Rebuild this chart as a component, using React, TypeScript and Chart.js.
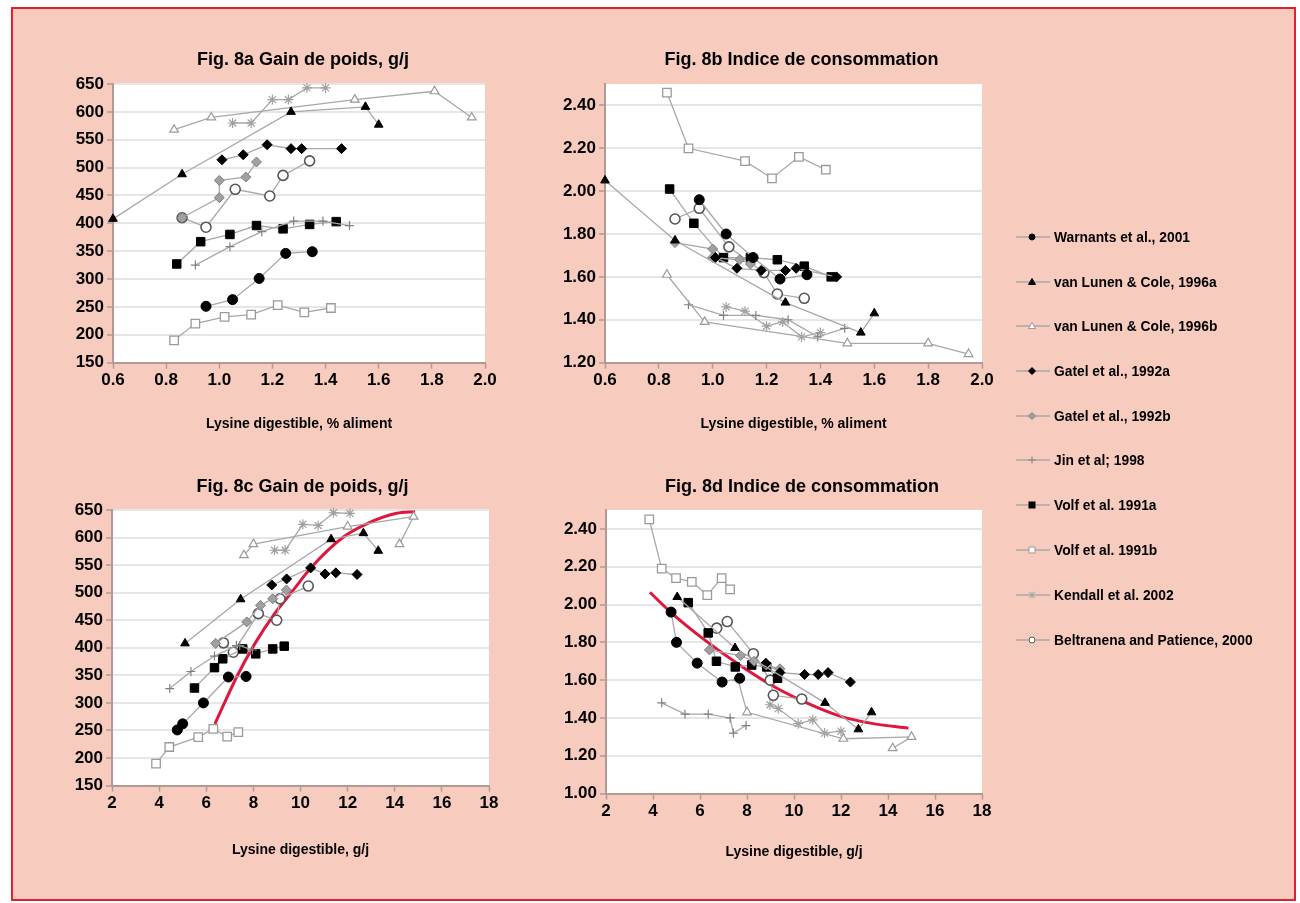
import React, { useEffect, useRef } from "react";
import { Chart, registerables } from "chart.js";
Chart.register(...registerables);

type P = [number, number][];

// ---------- series names (legend) ----------
const seriesNames = [
  "Warnants et al., 2001",
  "van Lunen & Cole, 1996a",
  "van Lunen & Cole, 1996b",
  "Gatel et al., 1992a",
  "Gatel et al., 1992b",
  "Jin et al; 1998",
  "Volf et al. 1991a",
  "Volf et al. 1991b",
  "Kendall et al. 2002",
  "Beltranena and Patience, 2000",
];

// ---------- ticks ----------
const pctTicks = [0.6, 0.8, 1.0, 1.2, 1.4, 1.6, 1.8, 2.0];
const pctLabels = ["0.6", "0.8", "1.0", "1.2", "1.4", "1.6", "1.8", "2.0"];
const gjTicks = [2, 4, 6, 8, 10, 12, 14, 16, 18];
const gjLabels = ["2", "4", "6", "8", "10", "12", "14", "16", "18"];
const gainTicks = [150, 200, 250, 300, 350, 400, 450, 500, 550, 600, 650];
const gainLabels = ["150", "200", "250", "300", "350", "400", "450", "500", "550", "600", "650"];
const icTicksB = [1.2, 1.4, 1.6, 1.8, 2.0, 2.2, 2.4];
const icLabelsB = ["1.20", "1.40", "1.60", "1.80", "2.00", "2.20", "2.40"];
const icTicksD = [1.0, 1.2, 1.4, 1.6, 1.8, 2.0, 2.2, 2.4];
const icLabelsD = ["1.00", "1.20", "1.40", "1.60", "1.80", "2.00", "2.20", "2.40"];

// ---------- Fig 8a : lysine % vs gain ----------
const warnantsA: P = [[0.95, 251], [1.05, 263], [1.15, 301], [1.25, 346], [1.35, 349]];
const lunenA_A: P = [[0.6, 408], [0.86, 488], [1.27, 600], [1.55, 609], [1.6, 577]];
const lunenB_A: P = [[0.83, 568], [0.97, 590], [1.51, 622], [1.81, 637], [1.95, 590]];
const gatelA_A: P = [[1.01, 514], [1.09, 523], [1.18, 541], [1.27, 534], [1.31, 534], [1.46, 534]];
const gatelB_A: P = [[0.86, 410], [1.0, 446], [1.0, 477], [1.1, 483], [1.14, 510]];
const jinA: P = [[0.91, 325], [1.04, 358], [1.16, 385], [1.28, 404], [1.39, 404], [1.49, 396]];
const volfA_A: P = [[0.84, 327], [0.93, 367], [1.04, 380], [1.14, 396], [1.24, 390], [1.34, 398], [1.44, 403]];
const volfB_A: P = [[0.83, 190], [0.91, 220], [1.02, 232], [1.12, 236], [1.22, 253], [1.32, 240], [1.42, 248]];
const kendallA: P = [[1.05, 580], [1.12, 580], [1.2, 622], [1.26, 622], [1.33, 643], [1.4, 643]];
const beltA: P = [[0.86, 410], [0.95, 393], [1.06, 461], [1.19, 449], [1.24, 486], [1.34, 512]];

// ---------- Fig 8b : lysine % vs feed conversion ----------
const warnantsB: P = [[0.95, 1.96], [1.05, 1.8], [1.15, 1.69], [1.25, 1.59], [1.35, 1.61]];
const lunenA_B: P = [[0.6, 2.05], [0.86, 1.77], [1.27, 1.48], [1.55, 1.34], [1.6, 1.43]];
const lunenB_B: P = [[0.83, 1.61], [0.97, 1.39], [1.5, 1.29], [1.8, 1.29], [1.95, 1.24]];
const gatelA_B: P = [[1.01, 1.69], [1.09, 1.64], [1.18, 1.63], [1.27, 1.63], [1.31, 1.64], [1.46, 1.6]];
const gatelB_B: P = [[0.86, 1.76], [1.0, 1.73], [1.0, 1.69], [1.1, 1.68], [1.14, 1.66]];
const jinB: P = [[0.91, 1.47], [1.04, 1.42], [1.16, 1.42], [1.28, 1.4], [1.39, 1.32], [1.49, 1.36]];
const volfA_B: P = [[0.84, 2.01], [0.93, 1.85], [1.04, 1.69], [1.14, 1.69], [1.24, 1.68], [1.34, 1.65], [1.44, 1.6]];
const volfB_B: P = [[0.83, 2.46], [0.91, 2.2], [1.12, 2.14], [1.22, 2.06], [1.32, 2.16], [1.42, 2.1]];
const kendallB: P = [[1.05, 1.46], [1.12, 1.44], [1.2, 1.37], [1.26, 1.39], [1.33, 1.32], [1.4, 1.34]];
const beltB: P = [[0.86, 1.87], [0.95, 1.92], [1.06, 1.74], [1.19, 1.62], [1.24, 1.52], [1.34, 1.5]];

// ---------- Fig 8c : lysine g/j vs gain ----------
const warnantsC: P = [[4.77, 251], [5.0, 262], [5.88, 300], [6.94, 347], [7.69, 348]];
const lunenA_C: P = [[5.1, 408], [7.46, 488], [11.3, 597], [12.67, 608], [13.3, 576]];
const lunenB_C: P = [[7.6, 568], [8.0, 588], [12.0, 620], [14.8, 638], [14.2, 588]];
const gatelA_C: P = [[8.78, 514], [9.41, 525], [10.43, 545], [11.04, 534], [11.5, 536], [12.4, 533]];
const gatelB_C: P = [[6.4, 408], [7.72, 447], [8.3, 477], [8.82, 489], [9.4, 505]];
const jinC: P = [[4.45, 326], [5.35, 357], [6.35, 385], [7.28, 404], [7.42, 404], [7.96, 396]];
const volfA_C: P = [[5.5, 327], [6.35, 364], [6.7, 380], [7.55, 398], [8.1, 389], [8.82, 398], [9.31, 403]];
const volfB_C: P = [[3.87, 190], [4.43, 220], [5.66, 238], [6.3, 253], [6.89, 239], [7.36, 247]];
const kendallC: P = [[8.9, 577], [9.35, 577], [10.1, 624], [10.75, 622], [11.4, 645], [12.1, 644]];
const beltC: P = [[6.73, 409], [7.15, 392], [8.21, 462], [8.99, 450], [9.13, 489], [10.33, 512]];
const fitC: P = [[6.37, 262], [7.29, 347], [8.07, 408], [8.85, 459], [9.7, 505], [10.48, 547], [11.82, 601], [12.81, 625], [14.08, 644], [14.86, 647]];

// ---------- Fig 8d : lysine g/j vs feed conversion ----------
const warnantsD: P = [[4.77, 1.96], [5.0, 1.8], [5.88, 1.69], [6.94, 1.59], [7.69, 1.61]];
const lunenA_D: P = [[5.03, 2.04], [7.49, 1.77], [11.32, 1.48], [12.74, 1.34], [13.3, 1.43]];
const lunenB_D: P = [[7.6, 1.61], [8.0, 1.43], [12.1, 1.29], [15.0, 1.3], [14.2, 1.24]];
const gatelA_D: P = [[8.8, 1.69], [9.4, 1.64], [10.45, 1.63], [11.03, 1.63], [11.45, 1.64], [12.4, 1.59]];
const gatelB_D: P = [[6.4, 1.76], [7.72, 1.73], [8.3, 1.7], [8.82, 1.68], [9.4, 1.66]];
const jinD: P = [[4.37, 1.48], [5.36, 1.42], [6.35, 1.42], [7.28, 1.4], [7.42, 1.32], [7.96, 1.36]];
const volfA_D: P = [[5.5, 2.01], [6.35, 1.85], [6.7, 1.7], [7.5, 1.67], [8.2, 1.68], [8.84, 1.67], [9.3, 1.61]];
const volfB_D: P = [[3.84, 2.45], [4.37, 2.19], [4.98, 2.14], [5.65, 2.12], [6.31, 2.05], [6.92, 2.14], [7.28, 2.08]];
const kendallD: P = [[8.98, 1.47], [9.33, 1.45], [10.18, 1.37], [10.8, 1.39], [11.3, 1.32], [12.0, 1.33]];
const beltD: P = [[6.71, 1.875], [7.16, 1.91], [8.27, 1.74], [8.99, 1.6], [9.12, 1.52], [10.33, 1.5]];
const fitD: P = [[3.87, 2.065], [4.72, 1.963], [6.28, 1.805], [7.7, 1.679], [9.12, 1.568], [10.54, 1.48], [11.96, 1.41], [13.37, 1.37], [14.87, 1.346]];

// ---------- styling ----------
const FONT = "'Liberation Sans', Arial, Helvetica, sans-serif";
const AXIS = "#b39893";
const GRID = "#e6e6e6";
const LINE = "#a8a8a8";
const FIT = "#e0173c";

type St = { ps: any; r: number; bg: string; bc: string; bw: number };
const STYLES: St[] = [
  { ps: "circle", r: 5, bg: "#000", bc: "#000", bw: 1 },
  { ps: "triangle", r: 5, bg: "#000", bc: "#000", bw: 1 },
  { ps: "triangle", r: 5, bg: "#fff", bc: "#9a9a9a", bw: 1.2 },
  { ps: "rectRot", r: 5, bg: "#000", bc: "#000", bw: 1 },
  { ps: "rectRot", r: 5, bg: "#a0a0a0", bc: "#808080", bw: 1 },
  { ps: "cross", r: 4.5, bg: "#808080", bc: "#808080", bw: 1.2 },
  { ps: "rect", r: 6, bg: "#000", bc: "#000", bw: 1 },
  { ps: "rect", r: 6, bg: "#fff", bc: "#9a9a9a", bw: 1.3 },
  { ps: "star", r: 5, bg: "#a0a0a0", bc: "#a0a0a0", bw: 1.2 },
  { ps: "circle", r: 5, bg: "#fff", bc: "#555", bw: 1.6 },
];

type Panel = {
  plot: { l: number; t: number; r: number; b: number };
  title: string;
  titleY: number;
  titleDX: number;
  xTitle: string;
  xTitleY: number;
  xMin: number; xMax: number; xTicks: number[]; xLabels: string[];
  yMin: number; yMax: number; yTicks: number[]; yLabels: string[];
  series: P[];
  fit?: P;
};

const panels: Panel[] = [
  {
    plot: { l: 113, t: 84, r: 485, b: 362 },
    title: "Fig. 8a Gain de poids, g/j", titleY: 60, titleDX: 4,
    xTitle: "Lysine digestible, % aliment", xTitleY: 424,
    xMin: 0.6, xMax: 2.0, xTicks: pctTicks, xLabels: pctLabels,
    yMin: 150, yMax: 650, yTicks: gainTicks, yLabels: gainLabels,
    series: [warnantsA, lunenA_A, lunenB_A, gatelA_A, gatelB_A, jinA, volfA_A, volfB_A, kendallA, beltA],
  },
  {
    plot: { l: 605, t: 84, r: 982, b: 362 },
    title: "Fig. 8b Indice de consommation", titleY: 60, titleDX: 8,
    xTitle: "Lysine digestible, % aliment", xTitleY: 424,
    xMin: 0.6, xMax: 2.0, xTicks: pctTicks, xLabels: pctLabels,
    yMin: 1.2, yMax: 2.5, yTicks: icTicksB, yLabels: icLabelsB,
    series: [warnantsB, lunenA_B, lunenB_B, gatelA_B, gatelB_B, jinB, volfA_B, volfB_B, kendallB, beltB],
  },
  {
    plot: { l: 112, t: 510, r: 489, b: 785 },
    title: "Fig. 8c Gain de poids, g/j", titleY: 487, titleDX: 2,
    xTitle: "Lysine digestible, g/j", xTitleY: 850,
    xMin: 2, xMax: 18, xTicks: gjTicks, xLabels: gjLabels,
    yMin: 150, yMax: 650, yTicks: gainTicks, yLabels: gainLabels,
    series: [warnantsC, lunenA_C, lunenB_C, gatelA_C, gatelB_C, jinC, volfA_C, volfB_C, kendallC, beltC],
    fit: fitC,
  },
  {
    plot: { l: 606, t: 510, r: 982, b: 793 },
    title: "Fig. 8d Indice de consommation", titleY: 487, titleDX: 8,
    xTitle: "Lysine digestible, g/j", xTitleY: 852,
    xMin: 2, xMax: 18, xTicks: gjTicks, xLabels: gjLabels,
    yMin: 1.0, yMax: 2.5, yTicks: icTicksD, yLabels: icLabelsD,
    series: [warnantsD, lunenA_D, lunenB_D, gatelA_D, gatelB_D, jinD, volfA_D, volfB_D, kendallD, beltD],
    fit: fitD,
  },
];

const TITLE_SIZE = 18;
const TICK_SIZE = 17;
const XTITLE_SIZE = 14;
const YW = 64;

const plotBg = {
  id: "plotBg",
  beforeDraw(chart: any) {
    const { ctx, chartArea } = chart;
    if (!chartArea) return;
    ctx.save();
    ctx.fillStyle = "#ffffff";
    ctx.fillRect(chartArea.left, chartArea.top, chartArea.right - chartArea.left, chartArea.bottom - chartArea.top);
    ctx.restore();
  },
};

function ChartPanel({ p }: { p: Panel }) {
  const ref = useRef<HTMLCanvasElement | null>(null);
  const tlh = TITLE_SIZE * 1.2;
  const xlh = XTITLE_SIZE * 1.2;
  const canvasTop = Math.round(p.titleY - tlh / 2);
  const titlePadBottom = p.plot.t - canvasTop - tlh;
  const XH = p.xTitleY - p.plot.b + xlh / 2;
  const YR = YW + 2 * p.titleDX;
  const left = p.plot.l - YW;
  const width = p.plot.r - p.plot.l + YW + YR;
  const height = Math.ceil(p.plot.b + XH + 3 - canvasTop);

  useEffect(() => {
    if (!ref.current) return;
    const datasets: any[] = p.series.map((pts, i) => {
      const s = STYLES[i];
      return {
        label: seriesNames[i],
        data: pts.map(([x, y]) => ({ x, y })),
        showLine: true,
        borderColor: LINE,
        borderWidth: 1.3,
        backgroundColor: s.bg,
        pointStyle: s.ps,
        pointRadius: s.r,
        pointBackgroundColor: s.bg,
        pointBorderColor: s.bc,
        pointBorderWidth: s.bw,
        tension: 0,
        clip: 8,
      };
    });
    if (p.fit) {
      datasets.push({
        label: "fit",
        data: p.fit.map(([x, y]) => ({ x, y })),
        showLine: true,
        borderColor: FIT,
        borderWidth: 3,
        pointRadius: 0,
        cubicInterpolationMode: "monotone",
        clip: 4,
      });
    }
    const chart = new Chart(ref.current, {
      type: "scatter",
      data: { datasets },
      plugins: [plotBg],
      options: {
        animation: false,
        responsive: false,
        maintainAspectRatio: false,
        layout: { padding: { left: 0, right: 0, top: 0, bottom: 3 } },
        plugins: {
          legend: { display: false },
          tooltip: { enabled: false },
          title: {
            display: true,
            text: p.title,
            color: "#000",
            font: { family: FONT, size: TITLE_SIZE, weight: "bold" },
            padding: { top: 0, bottom: titlePadBottom },
          },
        },
        scales: {
          x: {
            type: "linear",
            min: p.xMin,
            max: p.xMax,
            afterBuildTicks: (scale: any) => {
              scale.ticks = p.xTicks.map((v) => ({ value: v }));
            },
            afterFit: (scale: any) => {
              scale.height = XH;
            },
            ticks: {
              color: "#000",
              font: { family: FONT, size: TICK_SIZE, weight: "bold" },
              padding: 2,
              maxRotation: 0,
              autoSkip: false,
              callback: (_v: any, i: number) => p.xLabels[i],
            },
            grid: {
              drawOnChartArea: false,
              drawTicks: true,
              tickLength: 6,
              color: AXIS,
              tickColor: AXIS,
              tickWidth: 1.5,
            },
            border: { display: true, color: AXIS, width: 2 },
            title: {
              display: true,
              text: p.xTitle,
              color: "#000",
              font: { family: FONT, size: XTITLE_SIZE, weight: "bold" },
              padding: { top: 0, bottom: 0 },
            },
          },
          y: {
            type: "linear",
            position: "left",
            min: p.yMin,
            max: p.yMax,
            afterBuildTicks: (scale: any) => {
              scale.ticks = p.yTicks.map((v) => ({ value: v }));
            },
            afterFit: (scale: any) => {
              scale.width = YW;
            },
            ticks: {
              color: "#000",
              font: { family: FONT, size: TICK_SIZE, weight: "bold" },
              padding: 3,
              autoSkip: false,
              callback: (_v: any, i: number) => p.yLabels[i],
            },
            grid: {
              drawOnChartArea: true,
              drawTicks: true,
              tickLength: 6,
              lineWidth: 2,
              color: (ctx: any) => (ctx.tick && Math.abs(ctx.tick.value - p.yMin) < 1e-9 ? "rgba(0,0,0,0)" : GRID),
              tickColor: AXIS,
              tickWidth: 1.5,
            },
            border: { display: true, color: AXIS, width: 2 },
          },
          yR: {
            type: "linear",
            position: "right",
            display: true,
            min: 0,
            max: 1,
            afterFit: (scale: any) => {
              scale.width = YR;
            },
            ticks: { display: false },
            grid: { display: false, drawTicks: false },
            border: { display: false },
          },
        },
      } as any,
    });
    return () => chart.destroy();
  }, []);

  return (
    <canvas
      ref={ref}
      width={width}
      height={height}
      style={{ position: "absolute", left, top: canvasTop, width, height }}
    />
  );
}

function LegendMarker({ i }: { i: number }) {
  const s = STYLES[i];
  const cx = 16;
  const cy = 6;
  let shape: React.ReactNode = null;
  const f = s.bg;
  const st = s.bc;
  if (s.ps === "circle") shape = <circle cx={cx} cy={cy} r={3} fill={f} stroke={st} strokeWidth={1} />;
  else if (s.ps === "triangle") shape = <polygon points={`${cx},${cy - 3.5} ${cx + 3.5},${cy + 2.5} ${cx - 3.5},${cy + 2.5}`} fill={f} stroke={st} strokeWidth={1} />;
  else if (s.ps === "rectRot") shape = <polygon points={`${cx},${cy - 3.5} ${cx + 3.5},${cy} ${cx},${cy + 3.5} ${cx - 3.5},${cy}`} fill={f} stroke={st} strokeWidth={1} />;
  else if (s.ps === "rect") shape = <rect x={cx - 3} y={cy - 3} width={6} height={6} fill={f} stroke={st} strokeWidth={1} />;
  else if (s.ps === "cross") shape = <path d={`M${cx - 3.5} ${cy}H${cx + 3.5}M${cx} ${cy - 3.5}V${cy + 3.5}`} stroke={st} strokeWidth={1} />;
  else if (s.ps === "star") shape = <path d={`M${cx - 3} ${cy - 3}L${cx + 3} ${cy + 3}M${cx + 3} ${cy - 3}L${cx - 3} ${cy + 3}M${cx} ${cy - 3.5}V${cy + 3.5}`} stroke={st} strokeWidth={1} />;
  return (
    <svg width={34} height={12} style={{ display: "block" }}>
      <line x1={0} y1={cy} x2={34} y2={cy} stroke={LINE} strokeWidth={1.5} />
      {shape}
    </svg>
  );
}

function Legend() {
  const rowY = [237, 282, 326, 371, 416, 460, 505, 550, 595, 640];
  return (
    <>
      {seriesNames.map((n, i) => (
        <div
          key={n}
          style={{
            position: "absolute",
            left: 1016,
            top: rowY[i] - 9,
            height: 18,
            display: "flex",
            alignItems: "center",
            whiteSpace: "nowrap",
            fontFamily: FONT,
            fontWeight: "bold",
            fontSize: 13.8,
            color: "#000",
          }}
        >
          <LegendMarker i={i} />
          <span style={{ marginLeft: 4 }}>{n}</span>
        </div>
      ))}
    </>
  );
}

export default function App() {
  return (
    <div style={{ position: "absolute", left: 0, top: 0, width: 1300, height: 903, background: "#fff", overflow: "hidden" }}>
      <div
        style={{
          position: "absolute",
          left: 11,
          top: 7,
          width: 1285,
          height: 894,
          boxSizing: "border-box",
          border: "2px solid #e1222e",
          background: "#f7cbbe",
        }}
      />
      {panels.map((p, i) => (
        <ChartPanel key={i} p={p} />
      ))}
      <Legend />
    </div>
  );
}
